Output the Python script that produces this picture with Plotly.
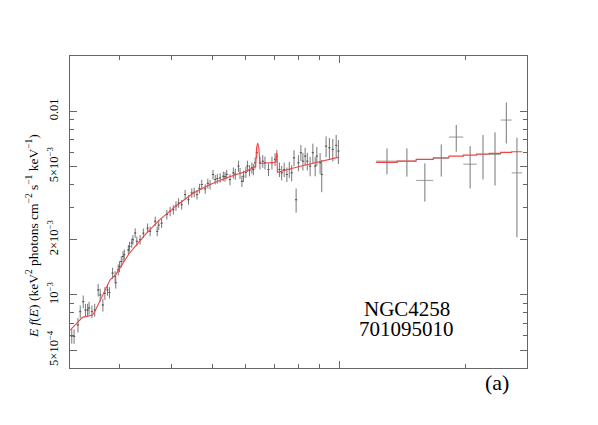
import numpy as np
import plotly.graph_objects as go

# XIS spectrum (keV, flux in 1e-3 units, error in percent)
xis_energy = [2.31, 2.34, 2.39, 2.42, 2.46, 2.49, 2.52, 2.54, 2.58, 2.62,
              2.67, 2.70, 2.74, 2.77, 2.81, 2.84, 2.89, 2.93, 2.94, 2.98,
              3.00, 3.03, 3.06, 3.08, 3.15, 3.17, 3.21, 3.23, 3.27, 3.30,
              3.36, 3.42, 3.50, 3.55, 3.65, 3.69, 3.72, 3.78, 3.89, 3.96,
              4.03, 4.09, 4.15, 4.22, 4.30, 4.38, 4.46, 4.52, 4.59, 4.65,
              4.71, 4.80, 4.87, 4.93, 5.01, 5.07, 5.13, 5.21, 5.30, 5.35,
              5.40, 5.50, 5.60, 5.66, 5.76, 5.81, 5.87, 5.92, 6.00, 6.05,
              6.12, 6.20, 6.25, 6.31, 6.37, 6.48, 6.58, 6.66, 6.79, 6.92,
              7.04, 7.11, 7.21, 7.30, 7.40, 7.51, 7.61, 7.71, 7.81, 7.90,
              8.00, 8.11, 8.20, 8.30, 8.40, 8.53, 8.66, 8.77, 8.85, 9.01,
              9.09, 9.31, 9.48, 9.66, 9.84, 9.96]
xis_flux = [0.597, 0.595, 0.686, 0.811, 0.919, 0.828, 0.828, 0.849, 0.811, 0.828,
            1.065, 1.000, 0.882, 1.021, 1.065, 1.030, 1.315, 1.259, 1.164, 1.370,
            1.428, 1.520, 1.619, 1.655, 1.760, 1.836, 1.920, 2.000, 2.174, 1.960,
            2.000, 2.170, 2.310, 2.220, 2.520, 2.220, 2.400, 2.460, 2.740, 2.850,
            2.910, 3.050, 3.170, 3.100, 3.520, 3.300, 3.590, 3.620, 3.520, 3.800,
            3.990, 3.780, 4.050, 3.990, 4.530, 4.250, 4.300, 4.340, 4.430, 4.400,
            4.530, 4.250, 4.620, 4.550, 5.030, 4.600, 4.160, 4.430, 4.650, 5.030,
            4.750, 4.920, 4.820, 5.240, 5.950, 5.240, 5.350, 5.240, 4.820, 5.240,
            5.470, 5.700, 4.820, 4.620, 4.820, 4.530, 4.820, 4.620, 5.580, 3.300,
            5.240, 5.950, 5.350, 5.700, 5.350, 5.030, 5.950, 5.030, 5.700, 5.240,
            4.530, 6.460, 6.330, 6.200, 6.520, 6.070]
xis_err_pct = [9, 9, 9, 8, 8, 8, 8, 8, 8, 8,
               8, 8, 8, 8, 7, 7, 7, 7, 7, 7,
               7, 7, 7, 7, 6, 6, 6, 6, 6, 6,
               6, 6, 6, 6, 6, 6, 6, 6, 6, 6,
               6, 6, 6, 6, 6, 6, 6, 6, 6, 6,
               6, 6, 6, 6, 6, 6, 6, 6, 6, 6,
               6, 7, 7, 7, 7, 7, 7, 7, 7, 7,
               7, 7, 7, 7, 7, 8, 8, 8, 8, 8,
               8, 8, 9, 9, 9, 9, 10, 10, 10, 15,
               10, 10, 11, 11, 11, 12, 12, 12, 12, 13,
               20, 13, 13, 14, 14, 15]

# XIS model curve
model_energy = [2.29, 2.45, 2.59, 2.62, 2.85, 2.94, 3.17, 3.48, 3.75, 4.11, 4.50,
                4.93, 5.40, 5.92, 6.25, 6.33, 6.36, 6.40, 6.44, 6.48, 7.04, 7.09,
                7.11, 7.13, 8.08, 10.0]
model_flux = [0.644, 0.755, 0.778, 0.81, 1.21, 1.29, 1.69, 2.17, 2.58, 3.08, 3.59,
              3.99, 4.34, 4.66, 4.92, 5.0, 6.3, 6.7, 6.3, 5.2, 5.28, 5.6,
              5.95, 4.65, 5.02, 5.63]

# HXD-PIN spectrum
hxd_energy = [13.0, 14.5, 16.0, 17.5, 19.0, 20.5, 22.0, 23.5, 25.0, 26.5]
hxd_flux = [5.35, 5.35, 4.20, 5.54, 7.24, 5.15, 5.82, 5.82, 8.96, 4.62]
hxd_err_hi = [0.93, 0.93, 1.00, 1.06, 1.18, 1.31, 1.60, 1.86, 2.20, 2.56]
hxd_err_lo = [0.82, 0.94, 0.98, 1.13, 1.22, 1.35, 1.57, 1.88, 2.28, 2.56]
hxd_model = [5.27, 5.35, 5.47, 5.58, 5.70, 5.77, 5.85, 5.90, 5.97, 6.02]
hxd_halfwidth = 0.75

scale = 1e-3
xis_f = np.array(xis_flux) * scale
xis_e = xis_f * np.array(xis_err_pct) / 100.0

fig = go.Figure()

fig.add_trace(go.Scatter(
    x=xis_energy, y=xis_f, mode='markers',
    marker=dict(size=1, color='#555'),
    error_y=dict(type='data', array=xis_e, color='#777', thickness=1, width=0),
    error_x=dict(type='percent', value=0.6, color='#555', thickness=1, width=0),
    showlegend=False))

fig.add_trace(go.Scatter(
    x=model_energy, y=np.array(model_flux) * scale, mode='lines',
    line=dict(color='#f24444', width=1.1), showlegend=False))

fig.add_trace(go.Scatter(
    x=hxd_energy, y=np.array(hxd_flux) * scale, mode='markers',
    marker=dict(size=1, color='#666'),
    error_y=dict(type='data', symmetric=False, array=np.array(hxd_err_hi) * scale,
                 arrayminus=np.array(hxd_err_lo) * scale, color='#777', thickness=1, width=0),
    error_x=dict(type='constant', value=hxd_halfwidth, color='#aaa', thickness=1.2, width=0),
    showlegend=False))

# HXD model as step histogram over the bins
edges = [e - hxd_halfwidth for e in hxd_energy] + [hxd_energy[-1] + hxd_halfwidth]
steps = hxd_model + [hxd_model[-1]]
fig.add_trace(go.Scatter(
    x=edges, y=np.array(steps) * scale, mode='lines', line_shape='hv',
    line=dict(color='#f24444', width=1.1), showlegend=False))

serif = "'Liberation Serif', 'Times New Roman', serif"

fig.update_xaxes(
    type='log', range=[np.log10(2.288), np.log10(28.0)],
    showgrid=False, zeroline=False, showline=True, linecolor='#666', linewidth=1,
    mirror='allticks', ticks='inside', ticklen=7, tickcolor='#666',
    tickvals=[10], showticklabels=False,
    minor=dict(tickvals=[3, 4, 5, 6, 7, 8, 9, 20], ticks='inside', ticklen=4, tickcolor='#666'))

fig.update_yaxes(
    type='log', range=[np.log10(4e-4), np.log10(0.02)],
    showgrid=False, zeroline=False, showline=True, linecolor='#666', linewidth=1,
    mirror='allticks', ticks='inside', ticklen=7, tickcolor='#666',
    tickvals=[5e-4, 1e-3, 2e-3, 5e-3, 0.01],
    ticktext=['5×10<sup>−4</sup>', '10<sup>−3</sup>', '2×10<sup>−3</sup>',
              '5×10<sup>−3</sup>', '0.01'],
    tickangle=-90, ticklabelstandoff=6,
    tickfont=dict(family=serif, size=12.5, color='black'),
    minor=dict(tickvals=[6e-4, 7e-4, 8e-4, 9e-4, 3e-3, 4e-3, 6e-3, 7e-3, 8e-3, 9e-3],
               ticks='inside', ticklen=4, tickcolor='#666'))

fig.add_annotation(
    text='<i>E f</i>(<i>E</i>) (keV<sup>2</sup> photons cm<sup>−2</sup> s<sup>−1</sup> keV<sup>−1</sup>)',
    xref='paper', yref='paper', x=-0.083, y=0.423, xanchor='center', yanchor='middle',
    textangle=-90, showarrow=False, font=dict(family=serif, size=13.5, color='black'))
fig.add_annotation(text='NGC4258', xref='paper', yref='paper', x=0.737, y=0.19,
                   xanchor='center', yanchor='middle', showarrow=False,
                   font=dict(family=serif, size=21, color='black'))
fig.add_annotation(text='701095010', xref='paper', yref='paper', x=0.737, y=0.124,
                   xanchor='center', yanchor='middle', showarrow=False,
                   font=dict(family=serif, size=21, color='black'))
fig.add_annotation(text='(a)', xref='paper', yref='paper', x=0.934, y=-0.045,
                   xanchor='center', yanchor='middle', showarrow=False,
                   font=dict(family=serif, size=22, color='black'))

# page body has an 8px margin, so the figure is drawn slightly smaller
fig.update_layout(
    width=590, height=417,
    margin=dict(l=62, r=71, t=48, b=57),
    plot_bgcolor='white', paper_bgcolor='white')

fig.write_html("out.html")
